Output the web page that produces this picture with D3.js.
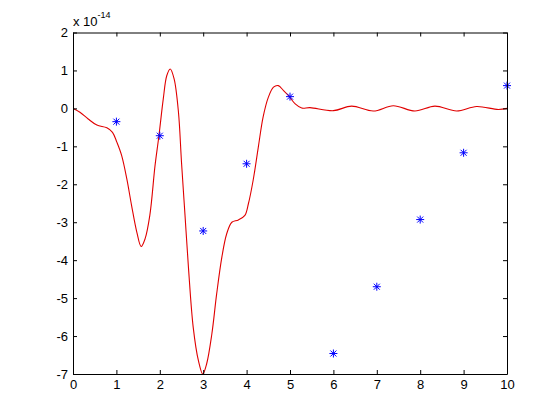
<!DOCTYPE html>
<html>
<head>
<meta charset="utf-8">
<script src="https://cdn.jsdelivr.net/npm/d3@7"></script>
<style>
  html, body { margin: 0; padding: 0; background: #ffffff; }
  svg { display: block; }
  text { font-family: "Liberation Sans", Arial, sans-serif; }
</style>
</head>
<body>
<svg id="chart" width="560" height="420"></svg>
<script>
// ---- data (values in units of 1e-14) ----
const pointX = [1, 2, 3, 4, 5, 6, 7, 8, 9, 10];
const pointY = [-0.35, -0.72, -3.23, -1.46, 0.31, -6.46, -4.70, -2.93, -1.17, 0.60];

const curveX = [0, 0.16, 0.35, 0.55, 0.78, 0.91, 1.01, 1.12, 1.24, 1.35, 1.47, 1.57, 1.66, 1.77, 1.89, 1.98,
  2.08, 2.16, 2.24, 2.33, 2.43, 2.50, 2.58, 2.66, 2.77, 2.89, 2.99, 3.08, 3.20, 3.31, 3.43, 3.54, 3.66, 3.81,
  3.96, 4.04, 4.15, 4.27, 4.38, 4.50, 4.62, 4.73, 4.85, 4.96, 5.12, 5.27, 5.46, 6.0, 6.42, 6.92, 7.38, 7.88,
  8.34, 8.84, 9.3, 9.8, 10];
const curveY = [0, -0.10, -0.28, -0.44, -0.51, -0.63, -0.89, -1.24, -1.86, -2.56, -3.26, -3.64, -3.44, -2.82, -1.51, -0.72,
  0.25, 0.86, 1.04, 0.78, -0.10, -1.42, -2.80, -4.19, -5.77, -6.65, -7.0, -6.73, -5.94, -4.89, -3.92, -3.31, -3.0, -2.94,
  -2.82, -2.52, -1.90, -1.02, -0.23, 0.29, 0.56, 0.60, 0.47, 0.34, 0.12, 0.01, 0.02, -0.06, 0.06, -0.07, 0.07, -0.07,
  0.06, -0.07, 0.05, -0.03, 0];

const xTicks = [0, 1, 2, 3, 4, 5, 6, 7, 8, 9, 10];
const yTicks = [-7, -6, -5, -4, -3, -2, -1, 0, 1, 2];
const exponentLabel = "-14";

// ---- layout ----
const pLeft = 73, pRight = 507, pTop = 32.5, pBottom = 374;
const svg = d3.select("#chart");

const x = d3.scaleLinear().domain([0, 10]).range([pLeft, pRight]);
const y = d3.scaleLinear().domain([-7, 2]).range([pBottom, pTop]);

// clip
svg.append("defs").append("clipPath").attr("id", "clip")
  .append("rect").attr("x", pLeft).attr("y", pTop).attr("width", pRight - pLeft).attr("height", pBottom - pTop);

// curve
const curveData = curveX.map((d, i) => [d, curveY[i]]);
svg.append("path")
  .datum(curveData)
  .attr("clip-path", "url(#clip)")
  .attr("fill", "none")
  .attr("stroke", "#e00000")
  .attr("stroke-width", 1.1)
  .attr("d", d3.line().x(d => x(d[0])).y(d => y(d[1])).curve(d3.curveCatmullRom.alpha(0.5)));

// star markers
const armA = 4, armB = 3;
const starPath = `M${-armA},0L${armA},0M0,${-armA}L0,${armA}M${-armB},${-armB}L${armB},${armB}M${-armB},${armB}L${armB},${-armB}`;
svg.append("g").selectAll("path")
  .data(pointX.map((d, i) => [d, pointY[i]]))
  .join("path")
  .attr("transform", d => `translate(${x(d[0])},${y(d[1])})`)
  .attr("d", starPath)
  .attr("stroke", "#0000ff")
  .attr("stroke-width", 1)
  .attr("fill", "none");

// axes
const fmt = d => String(d);
const gB = svg.append("g").attr("transform", `translate(0,${pBottom})`)
  .call(d3.axisBottom(x).tickValues(xTicks).tickFormat(fmt).tickSizeInner(-4).tickSizeOuter(0).tickPadding(6));
const gL = svg.append("g").attr("transform", `translate(${pLeft},0)`)
  .call(d3.axisLeft(y).tickValues(yTicks).tickFormat(fmt).tickSizeInner(-4).tickSizeOuter(0).tickPadding(5));
const gT = svg.append("g").attr("transform", `translate(0,${pTop})`)
  .call(d3.axisTop(x).tickValues(xTicks).tickFormat("").tickSizeInner(-4).tickSizeOuter(0));
const gR = svg.append("g").attr("transform", `translate(${pRight},0)`)
  .call(d3.axisRight(y).tickValues(yTicks).tickFormat("").tickSizeInner(-4).tickSizeOuter(0));

[gB, gL, gT, gR].forEach(g => {
  g.selectAll("path.domain").attr("stroke", "#000").attr("stroke-width", 1);
  g.selectAll(".tick line").attr("stroke", "#000").attr("stroke-width", 1);
  g.selectAll("text").attr("fill", "#000").style("font-size", "13px")
    .style("font-family", "'Liberation Sans', Arial, sans-serif");
});

// exponent label
const expText = svg.append("text").attr("x", 73).attr("y", 25.5)
  .attr("fill", "#000").style("font-size", "13px");
expText.append("tspan").text("x 10");
expText.append("tspan").attr("dy", -8).style("font-size", "9px").text(exponentLabel);
</script>
</body>
</html>
